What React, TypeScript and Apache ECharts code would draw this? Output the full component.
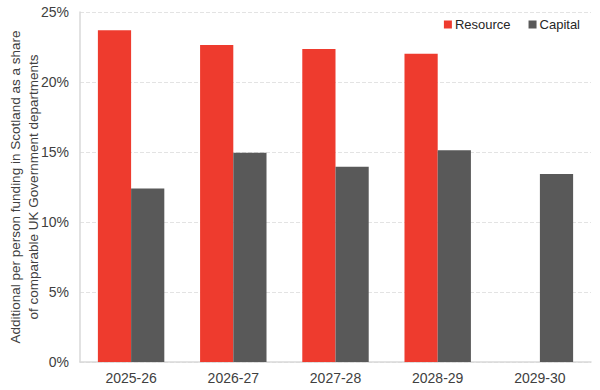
import React, { useEffect, useRef } from "react";
import * as echarts from "echarts";

const categories = ["2025-26", "2026-27", "2027-28", "2028-29", "2029-30"];
const resource = [23.7, 22.65, 22.35, 22.02, null];
const capital = [12.4, 14.95, 13.95, 15.12, 13.43];
const yTicks = [0, 5, 10, 15, 20, 25];

export default function App() {
  const ref = useRef<HTMLDivElement>(null);
  useEffect(() => {
    if (!ref.current) return;
    const chart = echarts.init(ref.current, undefined, { renderer: "svg" });
    const font = "Arial, 'Liberation Sans', sans-serif";
    chart.setOption({
      animation: false,
      textStyle: { fontFamily: font },
      grid: { left: 80, right: 9, top: 12, bottom: 28, outerBoundsMode: "none", containLabel: false },
      legend: {
        top: 13,
        right: 15,
        itemWidth: 8,
        itemHeight: 8,
        itemGap: 18,
        icon: "rect",
        textStyle: { fontSize: 13, color: "#262626", fontFamily: font, padding: [0, 0, 0, -2] },
        data: ["Resource", "Capital"],
      },
      xAxis: {
        type: "category",
        data: categories,
        axisLine: { lineStyle: { color: "#d9d9d9", width: 1.5 } },
        axisTick: { show: false },
        axisLabel: { fontSize: 14, color: "#404040", margin: 9, fontFamily: font },
      },
      yAxis: {
        type: "value",
        min: yTicks[0],
        max: yTicks[yTicks.length - 1],
        interval: 5,
        name: "Additional per person funding in Scotland as a share\nof comparable UK Government departments",
        nameLocation: "middle",
        nameGap: 38,
        nameMoveOverlap: false,
        nameTextStyle: { fontSize: 13.5, color: "#404040", lineHeight: 18, fontFamily: font },
        axisLine: { show: true, lineStyle: { color: "#d9d9d9", width: 1.5 } },
        axisTick: { show: false },
        splitLine: { lineStyle: { color: "#e3e3e3", type: "dashed" } },
        axisLabel: { fontSize: 14, color: "#404040", margin: 11, formatter: "{value}%", fontFamily: font },
      },
      series: [
        {
          name: "Resource",
          type: "bar",
          data: resource,
          barCategoryGap: "35%",
          barGap: "0%",
          itemStyle: { color: "#ee3b2e" },
        },
        {
          name: "Capital",
          type: "bar",
          data: capital,
          barCategoryGap: "35%",
          barGap: "0%",
          itemStyle: { color: "#595959" },
        },
      ],
    });
    return () => chart.dispose();
  }, []);
  return <div ref={ref} style={{ width: 600, height: 390, position: "absolute", left: 0, top: 0 }} />;
}
